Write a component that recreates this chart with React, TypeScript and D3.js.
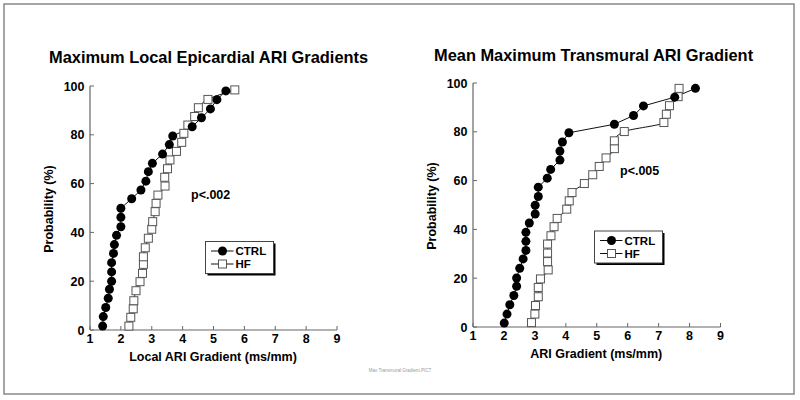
import React from "react";
import * as d3 from "d3";

// probability levels (%)
const leftCtrlX = [1.41, 1.43, 1.51, 1.59, 1.63, 1.7, 1.7, 1.7, 1.76, 1.79, 1.86, 2.0, 2.0, 2.0, 2.35, 2.65, 2.81, 2.89, 3.02, 3.35, 3.57, 3.68, 4.31, 4.61, 4.9, 5.11, 5.4];
const leftCtrlY = [1.6, 5.5, 9.2, 13, 16.7, 20, 23.8, 27.6, 31.4, 35, 38.8, 42.3, 46.2, 49.9, 53.8, 57.4, 61, 64.9, 68.3, 72.1, 76, 79.5, 83.3, 87, 90.6, 94.4, 98];

const leftHfX = [2.26, 2.32, 2.4, 2.42, 2.49, 2.62, 2.7, 2.73, 2.73, 2.79, 2.89, 3.0, 3.03, 3.11, 3.14, 3.2, 3.43, 3.42, 3.51, 3.59, 3.8, 3.97, 4.04, 4.17, 4.39, 4.51, 4.82, 5.69];
const leftHfY = [1.6, 5.2, 8.7, 12, 16.1, 19.8, 23.2, 26.9, 30, 33.7, 37.6, 41.3, 44.4, 48.5, 51.9, 55.3, 59, 62.6, 66.1, 69.7, 73.2, 76.9, 80.6, 84, 87.5, 91.1, 94.5, 98.4];

const rightCtrlX = [2.01, 2.1, 2.19, 2.32, 2.41, 2.41, 2.51, 2.62, 2.71, 2.71, 2.71, 2.82, 3.01, 3.01, 3.11, 3.11, 3.4, 3.51, 3.81, 3.81, 3.89, 4.1, 5.57, 6.19, 6.51, 7.52, 8.19];
const rightCtrlY = [1.6, 5.3, 9.1, 12.9, 16.7, 20.1, 24.1, 27.9, 31.4, 35.1, 38.8, 42.6, 46.3, 49.9, 53.5, 57.3, 61, 64.6, 68.4, 72.1, 75.8, 79.6, 83.1, 86.7, 90.6, 94.2, 97.8];

const rightHfX = [2.89, 3.0, 3.02, 3.11, 3.11, 3.18, 3.43, 3.41, 3.41, 3.41, 3.52, 3.62, 3.72, 4.03, 4.11, 4.2, 4.6, 4.87, 5.08, 5.3, 5.57, 5.57, 5.89, 7.17, 7.25, 7.35, 7.63, 7.66];
const rightHfY = [1.8, 5.3, 8.8, 12.4, 16.2, 19.7, 23.4, 26.8, 30.3, 34, 37.4, 41.1, 44.5, 48.3, 51.7, 55.1, 58.8, 62.4, 65.8, 69.3, 73.1, 76.3, 80.1, 83.8, 87.2, 90.7, 94.4, 97.8];

const xTicks = [1, 2, 3, 4, 5, 6, 7, 8, 9];
const yTicks = [0, 20, 40, 60, 80, 100];
const seriesNames = ["CTRL", "HF"];

const FONT = "'Liberation Sans', Arial, Helvetica, sans-serif";
const AXIS = "#666";

type Pt = [number, number];
const zip = (xs: number[], ys: number[]): Pt[] => xs.map((x, i) => [x, ys[i]]);

type PanelProps = {
  title: string;
  titleX: number;
  titleY: number;
  xLabel: string;
  x0: number;
  x1: number;
  y0: number;
  y1: number;
  ctrl: Pt[];
  hf: Pt[];
  pText: string;
  pX: number;
  pY: number;
  legX: number;
  legY: number;
};

function Panel(p: PanelProps) {
  const x = d3.scaleLinear().domain([1, 9]).range([p.x0, p.x1]);
  const y = d3.scaleLinear().domain([0, 100]).range([p.y0, p.y1]);
  const ctrlLine = d3.line<Pt>().x((d) => x(d[0])).y((d) => y(d[1]));
  const hfLine = d3
    .line<Pt>()
    .x((d) => x(d[0]))
    .y((d) => y(d[1]))
    .curve(d3.curveMonotoneY);

  const lw = 68;
  const lh = 32;
  return (
    <g>
      <text x={p.titleX} y={p.titleY} fontFamily={FONT} fontWeight="bold" fontSize={16.4}>
        {p.title}
      </text>
      {/* axes */}
      <line x1={p.x0} x2={p.x1} y1={p.y0} y2={p.y0} stroke={AXIS} strokeWidth={1.2} />
      <line x1={p.x0} x2={p.x0} y1={p.y0} y2={p.y1} stroke={AXIS} strokeWidth={1.2} />
      {xTicks.map((t) => (
        <g key={"x" + t}>
          <line x1={x(t)} x2={x(t)} y1={p.y0} y2={p.y0 - 4} stroke={AXIS} strokeWidth={1} />
          <text x={x(t)} y={p.y0 + 12.5} textAnchor="middle" fontFamily={FONT} fontWeight="bold" fontSize={12.5}>
            {t}
          </text>
        </g>
      ))}
      {yTicks.map((t) => (
        <g key={"y" + t}>
          <line x1={p.x0} x2={p.x0 + 4} y1={y(t)} y2={y(t)} stroke={AXIS} strokeWidth={1} />
          <text x={p.x0 - 5.5} y={y(t) + 4.5} textAnchor="end" fontFamily={FONT} fontWeight="bold" fontSize={12.5}>
            {t}
          </text>
        </g>
      ))}
      <text
        x={p.x0 + (x(9) - p.x0) / 2 - 0.5}
        y={p.y0 + 30.5}
        textAnchor="middle"
        fontFamily={FONT}
        fontWeight="bold"
        fontSize={12.5}
      >
        {p.xLabel}
      </text>
      <text
        transform={`translate(${p.x0 - 37},${(p.y0 + p.y1) / 2 + 1}) rotate(-90)`}
        textAnchor="middle"
        fontFamily={FONT}
        fontWeight="bold"
        fontSize={12.5}
      >
        Probability (%)
      </text>

      {/* series */}
      <path d={hfLine(p.hf) || ""} fill="none" stroke="#111" strokeWidth={1} />
      <path d={ctrlLine(p.ctrl) || ""} fill="none" stroke="#111" strokeWidth={1} />
      {p.hf.map((d, i) => (
        <rect
          key={"h" + i}
          x={x(d[0]) - 4}
          y={y(d[1]) - 4}
          width={8}
          height={8}
          fill="#fff"
          stroke="#555"
          strokeWidth={1}
        />
      ))}
      {p.ctrl.map((d, i) => (
        <circle key={"c" + i} cx={x(d[0])} cy={y(d[1])} r={4.5} fill="#000" />
      ))}

      <text x={p.pX} y={p.pY} fontFamily={FONT} fontWeight="bold" fontSize={12.5}>
        {p.pText}
      </text>

      {/* legend */}
      <rect x={p.legX + 2} y={p.legY + 2} width={lw} height={lh} fill="#000" />
      <rect x={p.legX} y={p.legY} width={lw} height={lh} fill="#fff" stroke="#444" strokeWidth={1} />
      {seriesNames.map((s, i) => {
        const ly = p.legY + 9.5 + i * 13;
        return (
          <g key={s}>
            <line x1={p.legX + 5.5} x2={p.legX + 28} y1={ly} y2={ly} stroke="#111" strokeWidth={1} />
            {i === 0 ? (
              <circle cx={p.legX + 17} cy={ly} r={4.5} fill="#000" />
            ) : (
              <rect x={p.legX + 13} y={ly - 4} width={8} height={8} fill="#fff" stroke="#555" />
            )}
            <text x={p.legX + 30} y={ly + 4.2} fontFamily={FONT} fontWeight="bold" fontSize={11.5}>
              {s}
            </text>
          </g>
        );
      })}
    </g>
  );
}

export default function App() {
  return (
    <svg
      width={800}
      height={400}
      style={{ position: "absolute", left: 0, top: 0, background: "#fff" }}
    >
      <rect x={0} y={0} width={800} height={400} fill="#fff" />
      <rect x={4} y={4} width={790} height={390} fill="none" stroke="#888" strokeWidth={1.5} />
      <Panel
        title="Maximum Local Epicardial ARI Gradients"
        titleX={49}
        titleY={63}
        xLabel="Local ARI Gradient (ms/mm)"
        x0={90}
        x1={337}
        y0={330}
        y1={86}
        ctrl={zip(leftCtrlX, leftCtrlY)}
        hf={zip(leftHfX, leftHfY)}
        pText="p<.002"
        pX={191}
        pY={198.5}
        legX={205.5}
        legY={241.5}
      />
      <Panel
        title="Mean Maximum Transmural ARI Gradient"
        titleX={434}
        titleY={60.5}
        xLabel="ARI Gradient (ms/mm)"
        x0={473}
        x1={720.5}
        y0={327}
        y1={83}
        ctrl={zip(rightCtrlX, rightCtrlY)}
        hf={zip(rightHfX, rightHfY)}
        pText="p<.005"
        pX={620}
        pY={175}
        legX={594.5}
        legY={231}
      />
      <text x={400} y={372} textAnchor="middle" fontFamily={FONT} fontSize={4.5} fill="#999">
        Max Transmural Gradient.PICT
      </text>
    </svg>
  );
}
